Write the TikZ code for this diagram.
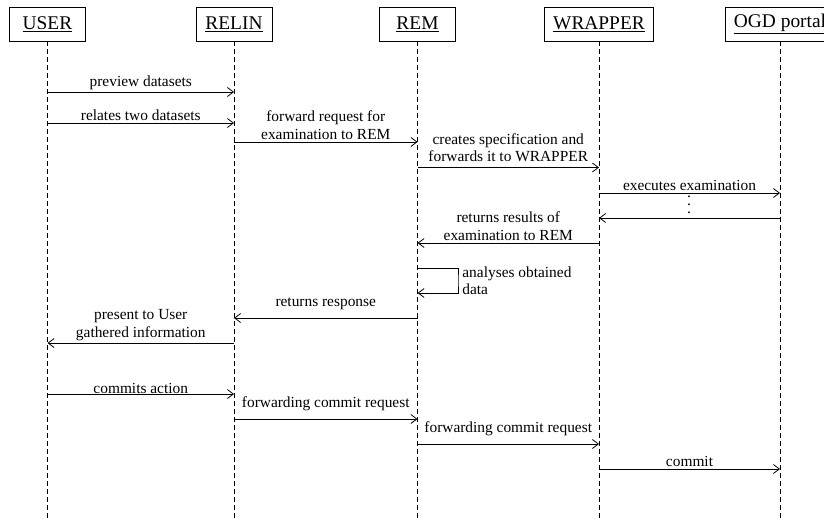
\documentclass[tikz,border=0pt]{standalone}
\usepackage{fontspec}
\setmainfont{Liberation Serif}
\usetikzlibrary{arrows.meta}

\begin{document}
\begin{tikzpicture}[x=1pt, y=-1pt, >={Straight Barb[length=6pt, width=9pt]}, line width=0.8pt, align=center,
    every node/.style={font=\fontsize{15.4}{17.5}\selectfont},
    actor/.style={draw, minimum width=76pt, minimum height=34pt, inner xsep=9pt, font=\fontsize{19.4}{23}\selectfont},
    lifeline/.style={dash pattern=on 5pt off 3pt},
    lbl/.style={above, inner sep=2pt}]
    \useasboundingbox (0,0) rectangle (824,519);

    % ACTORS
    \node (user) at (47.5, 24) [actor] {\underline{USER}};
    \node (relin) at (234, 24) [actor] {\underline{RELIN}};
    \node (rem) at (417.5, 24) [actor] {\underline{REM}};
    \node (wrapper) at (599, 24) [actor] {\underline{WRAPPER}};
    \node (ogd) at (780, 24) [actor] {\underline{OGD portal}};

    % LIFELINES
    \draw[lifeline] (user) -- (user |- 0,525);
    \draw[lifeline] (relin) -- (relin |- 0,525);
    \draw[lifeline] (rem) -- (rem |- 0,525);
    \draw[lifeline] (wrapper) -- (wrapper |- 0,525);
    \draw[lifeline] (ogd) -- (ogd |- 0,525);

    % MESSAGES
    % Examination
    \draw[->] (user |- 0,92) -- node[lbl] {preview datasets} (relin |- 0,92);
    \draw[->] (user |- 0,123) -- node[lbl] {relates two datasets} (relin |- 0,123);
    \draw[->] (relin |- 0,142) -- node[lbl] {forward request for\\examination to REM} (rem |- 0,142);
    \draw[->] (rem |- 0,167.5) -- node[lbl, yshift=3pt] {creates specification and\\forwards it to WRAPPER} (wrapper |- 0,167.5);
    \draw[->] (wrapper |- 0,193) -- node[lbl] {executes examination} (ogd |- 0,193);
    \node (dots) at (689, 205) [font=\fontsize{15.4}{8}\selectfont] {.\\.\\.};
    \draw[->] (ogd |- 0,218) -- (wrapper |- 0,218);
    \draw[->] (wrapper |- 0,243) -- node[lbl] {returns results of\\examination to REM} (rem |- 0,243);

    % Self call
    \draw[->] (rem |- 0,268) -| (458, 280.5) node[right, align=left, inner sep=4pt] {analyses obtained\\data} |- (rem |- 0,293);

    % Response
    \draw[->] (rem |- 0,318) -- node[lbl, yshift=6pt] {returns response} (relin |- 0,318);
    \draw[->] (relin |- 0,343) -- node[lbl] {present to User\\gathered information} (user |- 0,343);

    % Commit
    \draw[->] (user |- 0,394) -- node[lbl, yshift=-2pt] {commits action} (relin |- 0,394);
    \draw[->] (relin |- 0,419) -- node[lbl, yshift=6pt] {forwarding commit request} (rem |- 0,419);
    \draw[->] (rem |- 0,444) -- node[lbl, yshift=6pt] {forwarding commit request} (wrapper |- 0,444);
    \draw[->] (wrapper |- 0,469) -- node[lbl] {commit} (ogd |- 0,469);
\end{tikzpicture}
\end{document}
